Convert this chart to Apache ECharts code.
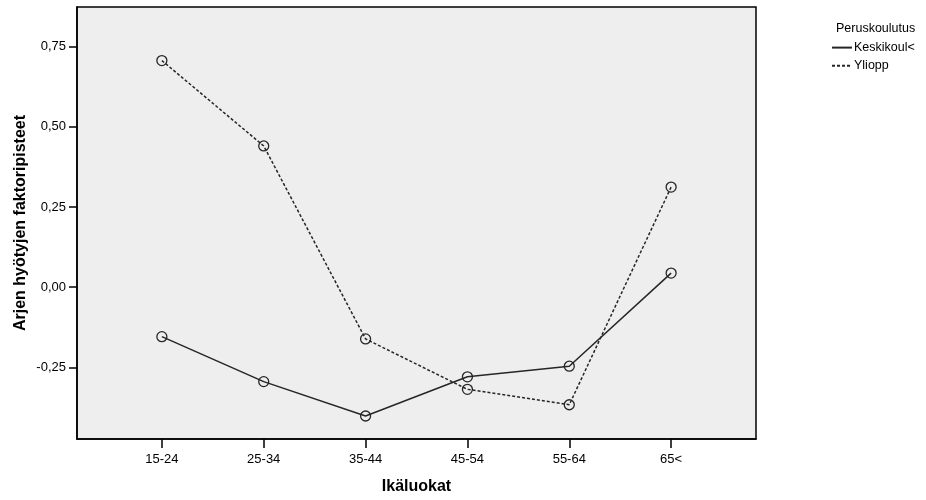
<!DOCTYPE html>
<html>
<head>
<meta charset="utf-8">
<script src="https://cdn.jsdelivr.net/npm/echarts@6/dist/echarts.min.js"></script>
<style>html,body{margin:0;padding:0;background:#fff}#c{width:926px;height:500px}</style>
</head>
<body>
<div id="c"></div>
<script>
const categories = ['15-24', '25-34', '35-44', '45-54', '55-64', '65<'];
const keskikoul = [-0.154, -0.294, -0.401, -0.279, -0.246, 0.044];
const yliopp = [0.706, 0.440, -0.161, -0.318, -0.366, 0.312];
const yTicks = [-0.25, 0, 0.25, 0.5, 0.75];
const xTicks = categories.map((c, i) => i);

const FONT = 'Liberation Sans, Arial, sans-serif';
const chart = echarts.init(document.getElementById('c'), null, {renderer: 'canvas'});
const pairs = arr => arr.map((v, i) => [i, v]);
const lineColor = '#262626';

chart.setOption({
  backgroundColor: '#fff',
  animation: false,
  title: {
    text: 'Peruskoulutus', left: 831, top: 17,
    textStyle: {fontFamily: FONT, fontSize: 12.5, fontWeight: 'normal', color: '#000'}
  },
  legend: {
    orient: 'vertical', left: 826, top: 36, itemWidth: 20, itemHeight: 14, itemGap: 5,
    textStyle: {fontFamily: FONT, fontSize: 12.5, color: '#000', padding: [0, 0, 0, -3]},
    itemStyle: {opacity: 0},
    data: ['Keskikoul<', 'Yliopp']
  },
  grid: {
    left: 77, top: 7, right: 170, bottom: 61,
    show: true, backgroundColor: '#eeeeee', borderColor: '#000', borderWidth: 1.5
  },
  xAxis: {
    type: 'value', min: -0.8333, max: 5.8333,
    name: 'Ikäluokat', nameLocation: 'middle', nameGap: 40, nameMoveOverlap: false,
    nameTextStyle: {fontFamily: FONT, fontSize: 16, fontWeight: 'bold', color: '#000'},
    axisLine: {show: true, onZero: false, lineStyle: {color: '#000', width: 1.5}},
    axisTick: {show: true, length: 9, customValues: xTicks, lineStyle: {color: '#000', width: 1.5}},
    axisLabel: {
      customValues: xTicks, margin: 14,
      fontFamily: FONT, fontSize: 13, color: '#000',
      formatter: v => categories[Math.round(v)]
    },
    splitLine: {show: false}
  },
  yAxis: {
    type: 'value', min: -0.4727, max: 0.8728,
    name: 'Arjen hyötyjen faktoripisteet', nameLocation: 'middle', nameGap: 48, nameMoveOverlap: false,
    nameTextStyle: {fontFamily: FONT, fontSize: 16, fontWeight: 'bold', color: '#000'},
    axisLine: {show: true, onZero: false, lineStyle: {color: '#000', width: 1.5}},
    axisTick: {show: true, length: 8, customValues: yTicks, lineStyle: {color: '#000', width: 1.5}},
    axisLabel: {
      customValues: yTicks, margin: 11,
      fontFamily: FONT, fontSize: 13, color: '#000',
      formatter: v => v.toFixed(2).replace('.', ',')
    },
    splitLine: {show: false}
  },
  series: [
    {
      name: 'Keskikoul<', type: 'line', data: pairs(keskikoul),
      symbol: 'circle', symbolSize: 10,
      lineStyle: {color: lineColor, width: 1.5, type: 'solid'},
      itemStyle: {color: 'rgba(0,0,0,0)', borderColor: lineColor, borderWidth: 1.3}
    },
    {
      name: 'Yliopp', type: 'line', data: pairs(yliopp),
      symbol: 'circle', symbolSize: 10,
      lineStyle: {color: lineColor, width: 1.5, type: [3, 2]},
      itemStyle: {color: 'rgba(0,0,0,0)', borderColor: lineColor, borderWidth: 1.3}
    }
  ]
});
</script>
</body>
</html>
